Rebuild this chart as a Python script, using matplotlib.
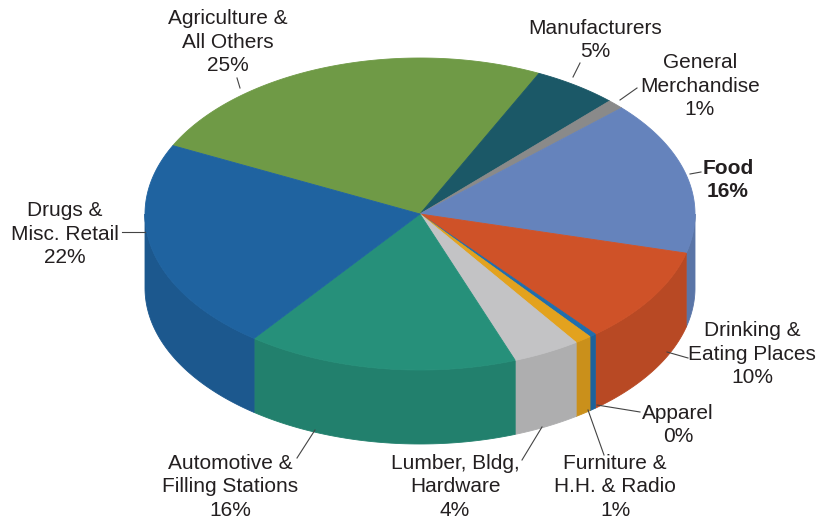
import numpy as np
import matplotlib.pyplot as plt
from matplotlib.colors import to_rgb

# sales share by kind of business, clockwise from the top
categories = ['Agriculture &\nAll Others', 'Manufacturers', 'General\nMerchandise',
              'Food', 'Drinking &\nEating Places', 'Apparel', 'Furniture &\nH.H. & Radio',
              'Lumber, Bldg,\nHardware', 'Automotive &\nFilling Stations',
              'Drugs &\nMisc. Retail']
shares = [25, 5, 1, 16, 10, 0.4, 1, 4, 16, 22]
colors = ['#6F9A46', '#1B5867', '#8A8A8A', '#6583BC', '#CF5228',
          '#1F6EAE', '#E3A21E', '#C3C3C5', '#26907A', '#1F63A0']

# label layout (pixel coords): text centre, leader start on pie, leader end
label_xy = [(228, 42), (595, 40), (700, 86), (728, 180), (752, 354),
            (678, 425), (615, 487), (455, 487), (230, 487), (65, 234)]
leader = [((240, 88), (237, 78)), ((573, 77), (580, 63)), ((620, 100), (637, 88)),
          ((690, 174), (701, 172)), ((667, 352), (688, 358)), ((597, 405), (640, 412)),
          ((588, 410), (604, 455)), ((542, 427), (522, 460)), ((315, 430), (297, 458)),
          ((145, 232), (122, 232))]

cx, cy, a, b, thick = 420, 214, 275, 156, 74
start = 154.0

plt.rcParams['font.family'] = ['Liberation Sans', 'DejaVu Sans']
fig = plt.figure(figsize=(8.27, 5.22), dpi=100)
ax = fig.add_axes([0, 0, 1, 1])
ax.set_xlim(0, 827)
ax.set_ylim(522, 0)
ax.axis('off')


def rim(t_deg, dy=0.0):
    t = np.radians(t_deg)
    return cx + a * np.cos(t), cy - b * np.sin(t) + dy


def darker(c, f=0.89):
    return tuple(v * f for v in to_rgb(c))


total = sum(shares)
spans = []
t = start
for s in shares:
    sweep = 360.0 * s / total
    spans.append((t - sweep, t))
    t -= sweep

# side wall: only the front half (sin t <= 0) is seen
for (lo, hi), c in zip(spans, colors):
    for k in (-1, 0, 1):
        f_lo, f_hi = max(lo, -180 + 360 * k), min(hi, 360 * k)
        if f_hi <= f_lo:
            continue
        ts = np.linspace(f_lo, f_hi, 60)
        xt, yt = rim(ts)
        xb, yb = rim(ts[::-1], thick)
        ax.fill(np.r_[xt, xb], np.r_[yt, yb], color=darker(c), lw=0.6,
                ec=darker(c), zorder=1)

# top face wedges
for (lo, hi), c in zip(spans, colors):
    ts = np.linspace(lo, hi, 120)
    xs, ys = rim(ts)
    ax.fill(np.r_[cx, xs], np.r_[cy, ys], color=c, lw=0.6, ec=c, zorder=2)

for name, s, (tx, ty), (p0, p1) in zip(categories, shares, label_xy, leader):
    weight = 'bold' if name == 'Food' else 'normal'
    ax.text(tx, ty, f'{name}\n{round(s)}%', ha='center', va='center',
            fontsize=15, color='#231F20', linespacing=1.31, fontweight=weight,
            zorder=4)
    ax.plot([p0[0], p1[0]], [p0[1], p1[1]], color='#444444', lw=0.8, zorder=3)

fig.savefig('out.png', dpi=100)
